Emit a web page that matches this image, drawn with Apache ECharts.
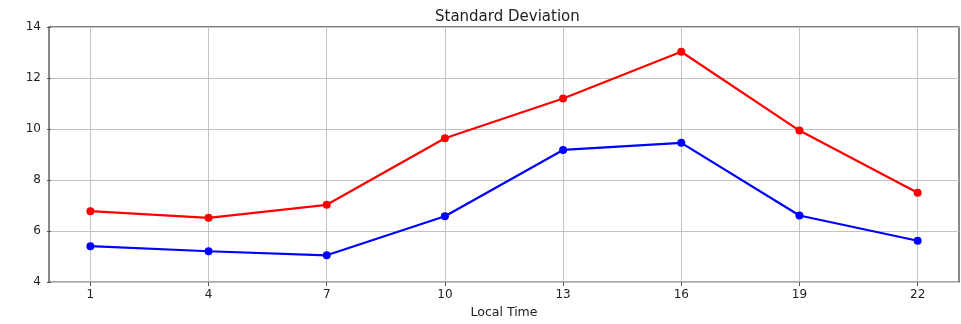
<!DOCTYPE html>
<html><head><meta charset="utf-8">
<script src="https://cdn.jsdelivr.net/npm/echarts@6/dist/echarts.min.js"></script>
<style>html,body{margin:0;padding:0;background:#fff}#c{width:961px;height:324px}</style>
</head><body><div id="c"></div>
<script>
const hours = [1, 4, 7, 10, 13, 16, 19, 22];
const redValues = [6.78, 6.52, 7.03, 9.64, 11.20, 13.03, 9.94, 7.50];
const blueValues = [5.41, 5.21, 5.05, 6.58, 9.18, 9.46, 6.61, 5.62];
const yTicks = [4, 6, 8, 10, 12, 14];

const chart = echarts.init(document.getElementById('c'), null, {renderer: 'canvas'});
const font = 'DejaVu Sans';
chart.setOption({
  animation: false,
  title: {
    text: 'Standard Deviation', left: 430, top: 5,
    textStyle: {fontFamily: font, fontSize: 15, fontWeight: 'normal', color: '#222'}
  },
  grid: {left: 49, right: 2, top: 27, bottom: 41, show: true, borderColor: '#555', borderWidth: 1.4, backgroundColor: 'transparent'},
  xAxis: {
    type: 'value', min: -0.05, max: 23.05,
    name: 'Local Time', nameLocation: 'middle', nameGap: 22,
    nameTextStyle: {fontFamily: font, fontSize: 12.5, color: '#222'},
    axisLine: {show: false},
    axisTick: {show: true, inside: false, length: 4, customValues: hours, lineStyle: {color: '#555'}},
    axisLabel: {customValues: hours, margin: 7, fontFamily: font, fontSize: 12, color: '#222'},
    splitLine: {show: true, lineStyle: {color: '#c4c4c4', width: 1}}
  },
  yAxis: {
    type: 'value', min: 4, max: 14, interval: 2,
    axisLine: {show: false},
    axisTick: {show: true, length: 4, lineStyle: {color: '#555'}},
    axisLabel: {margin: 8, fontFamily: font, fontSize: 12, color: '#222', customValues: yTicks},
    splitLine: {show: true, lineStyle: {color: '#c4c4c4', width: 1}}
  },
  series: [
    {type: 'line', data: hours.map((h, i) => [h, redValues[i]]), color: '#ff0000',
     symbol: 'circle', symbolSize: 8, lineStyle: {width: 2.2, color: '#ff0000'}, itemStyle: {color: '#ff0000'}, z: 3},
    {type: 'line', data: hours.map((h, i) => [h, blueValues[i]]), color: '#0000ff',
     symbol: 'circle', symbolSize: 8, lineStyle: {width: 2.2, color: '#0000ff'}, itemStyle: {color: '#0000ff'}, z: 4}
  ]
});
</script></body></html>
